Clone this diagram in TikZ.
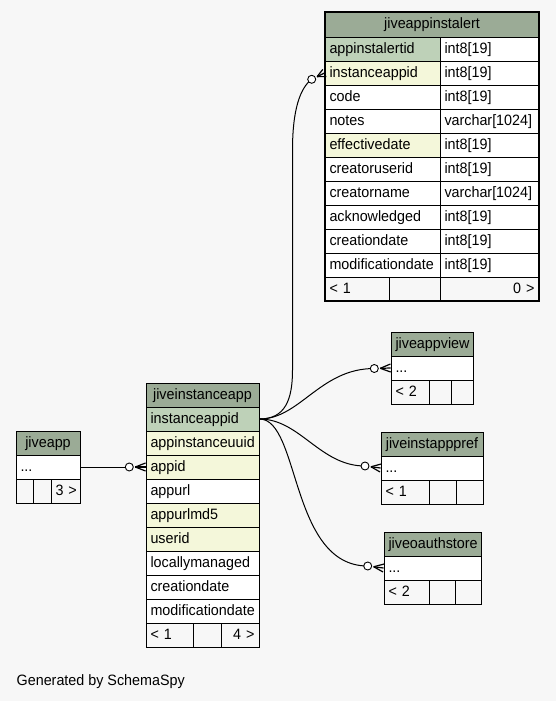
\documentclass[tikz,border=0pt]{standalone}
\usepackage{fontspec}
\newfontfamily\tf{Liberation Sans}[FakeStretch=0.955]
\usetikzlibrary{calc}
\definecolor{bgc}{HTML}{F7F7F7}
\definecolor{hdrc}{HTML}{9BAB96}
\definecolor{pkc}{HTML}{BED1B8}
\definecolor{fkc}{HTML}{F4F7DA}
\tikzset{
  cell/.style={draw=black, line width=0.9pt, fill=white, inner xsep=4.5pt, inner ysep=0pt,
    align=left, text height=11pt, text depth=2.4pt, font=\tf\fontsize{15}{18}\selectfont},
  hdr/.style={fill=hdrc, align=center},
  pk/.style={fill=pkc},
  fk/.style={fill=fkc},
  plain/.style={fill=white},
  foot/.style={fill=bgc},
  rfoot/.style={fill=bgc, align=right},
  frame/.style={draw=black, line width=2.6pt, inner sep=0pt},
  conn/.style={draw=black, line width=1pt},
  crowline/.style={draw=black, line width=1.2pt},
  ring/.style={circle, draw=black, fill=white, line width=0.9pt, minimum size=8pt, inner sep=0pt},
  note/.style={font=\tf\fontsize{15}{18}\selectfont, inner sep=0pt, anchor=base west}
}
\newcommand\cellbox[7]{%
  \pgfmathsetmacro\cbw{#4-#2}%
  \pgfmathsetmacro\cbh{#5-#3}%
  \pgfmathsetmacro\cbt{#4-#2-9}%
  \node[cell,#6,minimum width=\cbw pt,minimum height=\cbh pt,text width=\cbt pt] (#1) at ({(#2+#4)/2},{(#3+#5)/2}) {\mbox{#7}};}
\newcommand\crowfoot[2]{%
  \draw[crowline] (#1) -- (#2);
  \draw[crowline] (#1) -- ($(#2)!4pt!90:(#1)$);
  \draw[crowline] (#1) -- ($(#2)!4pt!-90:(#1)$);}
\begin{document}
\begin{tikzpicture}[x=1pt,y=-1pt]
\fill[bgc] (0,0) rectangle (556,701);
\useasboundingbox (0,0) rectangle (556,701);

% jiveappinstalert
\cellbox{a-h}{325}{12}{539}{37}{hdr}{jiveappinstalert}
\cellbox{a-r1}{325}{37}{440}{61}{pk}{appinstalertid}
\cellbox{a-t1}{440}{37}{539}{61}{plain}{int8[19]}
\cellbox{a-r2}{325}{61}{440}{85}{fk}{instanceappid}
\cellbox{a-t2}{440}{61}{539}{85}{plain}{int8[19]}
\cellbox{a-r3}{325}{85}{440}{109}{plain}{code}
\cellbox{a-t3}{440}{85}{539}{109}{plain}{int8[19]}
\cellbox{a-r4}{325}{109}{440}{133}{plain}{notes}
\cellbox{a-t4}{440}{109}{539}{133}{plain}{varchar[1024]}
\cellbox{a-r5}{325}{133}{440}{157}{fk}{effectivedate}
\cellbox{a-t5}{440}{133}{539}{157}{plain}{int8[19]}
\cellbox{a-r6}{325}{157}{440}{181}{plain}{creatoruserid}
\cellbox{a-t6}{440}{157}{539}{181}{plain}{int8[19]}
\cellbox{a-r7}{325}{181}{440}{205}{plain}{creatorname}
\cellbox{a-t7}{440}{181}{539}{205}{plain}{varchar[1024]}
\cellbox{a-r8}{325}{205}{440}{229}{plain}{acknowledged}
\cellbox{a-t8}{440}{205}{539}{229}{plain}{int8[19]}
\cellbox{a-r9}{325}{229}{440}{253}{plain}{creationdate}
\cellbox{a-t9}{440}{229}{539}{253}{plain}{int8[19]}
\cellbox{a-r10}{325}{253}{440}{277}{plain}{modificationdate}
\cellbox{a-t10}{440}{253}{539}{277}{plain}{int8[19]}
\cellbox{a-f1}{325}{277}{389}{301}{foot}{< 1}
\cellbox{a-f2}{389}{277}{440}{301}{foot}{}
\cellbox{a-f3}{440}{277}{539}{301}{rfoot}{0 >}
\node[frame, minimum width=214pt, minimum height=289pt] (a-frame) at (432,156.5) {};

% jiveinstanceapp
\cellbox{i-h}{146}{383}{259}{407}{hdr}{jiveinstanceapp}
\cellbox{i-r1}{146}{407}{259}{431}{pk}{instanceappid}
\cellbox{i-r2}{146}{431}{259}{455}{fk}{appinstanceuuid}
\cellbox{i-r3}{146}{455}{259}{479}{fk}{appid}
\cellbox{i-r4}{146}{479}{259}{503}{plain}{appurl}
\cellbox{i-r5}{146}{503}{259}{527}{fk}{appurlmd5}
\cellbox{i-r6}{146}{527}{259}{551}{fk}{userid}
\cellbox{i-r7}{146}{551}{259}{575}{plain}{locallymanaged}
\cellbox{i-r8}{146}{575}{259}{599}{plain}{creationdate}
\cellbox{i-r9}{146}{599}{259}{623}{plain}{modificationdate}
\cellbox{i-f1}{146}{623}{193}{647}{foot}{< 1}
\cellbox{i-f2}{193}{623}{221}{647}{foot}{}
\cellbox{i-f3}{221}{623}{259}{647}{rfoot}{4 >}

% jiveapp
\cellbox{p-h}{16}{431}{80}{455}{hdr}{jiveapp}
\cellbox{p-r1}{16}{455}{80}{479}{plain}{...}
\cellbox{p-f1}{16}{479}{33}{503}{foot}{}
\cellbox{p-f2}{33}{479}{51}{503}{foot}{}
\cellbox{p-f3}{51}{479}{80}{503}{rfoot}{3 >}

% jiveappview
\cellbox{v-h}{391}{332}{473}{356}{hdr}{jiveappview}
\cellbox{v-r1}{391}{356}{473}{380}{plain}{...}
\cellbox{v-f1}{391}{380}{429}{404}{foot}{< 2}
\cellbox{v-f2}{429}{380}{451}{404}{foot}{}
\cellbox{v-f3}{451}{380}{473}{404}{foot}{}

% jiveinstapppref
\cellbox{s-h}{381}{432}{483}{456}{hdr}{jiveinstapppref}
\cellbox{s-r1}{381}{456}{483}{480}{plain}{...}
\cellbox{s-f1}{381}{480}{429}{504}{foot}{< 1}
\cellbox{s-f2}{429}{480}{456}{504}{foot}{}
\cellbox{s-f3}{456}{480}{483}{504}{foot}{}

% jiveoauthstore
\cellbox{o-h}{384}{532}{481}{556}{hdr}{jiveoauthstore}
\cellbox{o-r1}{384}{556}{481}{580}{plain}{...}
\cellbox{o-f1}{384}{580}{429}{604}{foot}{< 2}
\cellbox{o-f2}{429}{580}{455}{604}{foot}{}
\cellbox{o-f3}{455}{580}{481}{604}{foot}{}

% connector end rings
\coordinate (c1) at (311.7,79.3);
\coordinate (c2) at (129.3,467);
\coordinate (c3) at (374.3,368.5);
\coordinate (c4) at (365,466);
\coordinate (c5) at (367.7,566);

\draw[conn] (i-r1.east) .. controls (285,419) and (292.5,400) .. (292.5,370) -- (292.5,150)
  .. controls (292.5,110) and (300,88) .. (c1);
\draw[conn] (p-r1.east) -- (c2);
\draw[conn] (i-r1.east) .. controls (300,419) and (320,368.5) .. (c3);
\draw[conn] (i-r1.east) .. controls (300,419) and (320,466) .. (c4);
\draw[conn] (i-r1.east) .. controls (300,419) and (290,566) .. (c5);

\coordinate (e1) at (a-r2.west);
\coordinate (e2) at (i-r3.west);
\coordinate (e3) at (v-r1.west);
\coordinate (e4) at (s-r1.west);
\coordinate (e5) at (o-r1.west);
\foreach \k in {1,...,5}{
  \coordinate (k\k) at ($(c\k)!6pt!(e\k)$);
  \crowfoot{k\k}{e\k}
  \node[ring] (r\k) at (c\k) {};
}

\node[note] (gen) at (16.5,685.5) {Generated by SchemaSpy};
\end{tikzpicture}
\end{document}
